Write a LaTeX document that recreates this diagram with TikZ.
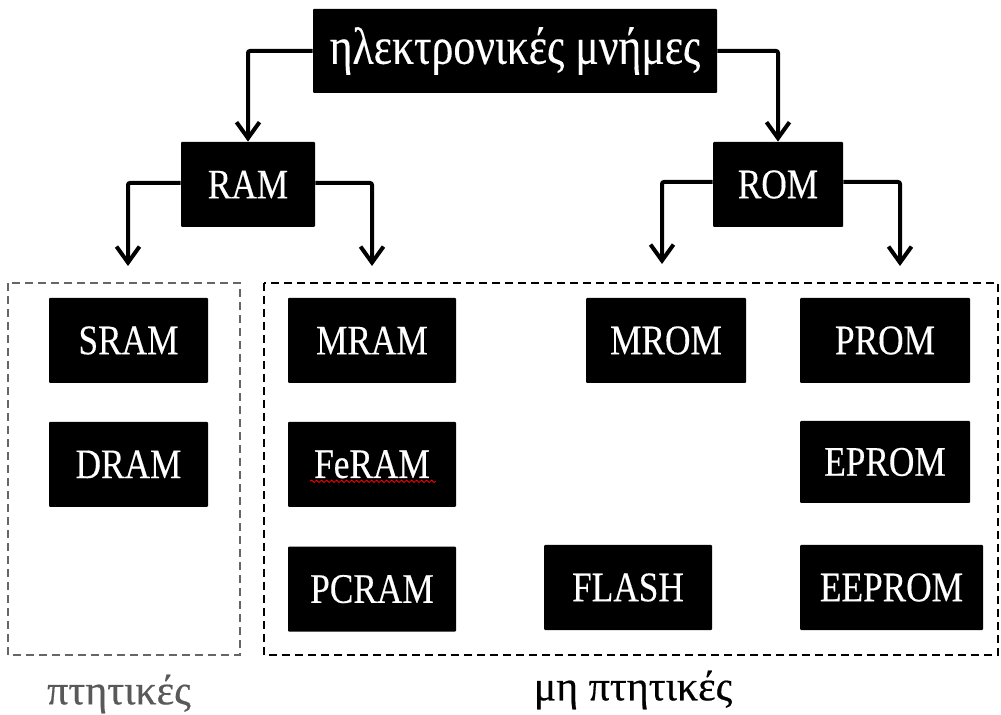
\documentclass[tikz,border=0pt]{standalone}
\usepackage{fontspec}
\setmainfont{Liberation Serif}
\newfontfamily\boxfont[FakeStretch=0.84,FakeBold=0.3]{Liberation Serif}
\newfontfamily\lblfont[FakeBold=0.4]{Liberation Serif}
\usetikzlibrary{arrows.meta,positioning,decorations.pathmorphing}

\begin{document}
\begin{tikzpicture}[x=0.5pt,y=-0.5pt,>={Straight Barb[length=8pt,width=11.5pt]},
    mem/.style={rectangle, fill=black, text=white, rounded corners=0.5pt, minimum height=42.5pt, inner sep=0pt, font=\boxfont\fontsize{21}{24}\selectfont},
    arr/.style={->, line width=2pt, rounded corners=1pt},
    grp/.style={dashed, line width=1.2pt, dash pattern=on 4pt off 2.5pt},
    lbl/.style={font=\lblfont\fontsize{21}{24}\selectfont},]
    \useasboundingbox (0,0) rectangle (1001,715);
    % top and the two families
    \node [mem, minimum width=202pt, minimum height=42pt, font=\boxfont\fontsize{26}{30}\selectfont] (top) at (515,51) {ηλεκτρονικές μνήμες};
    \node [mem, minimum width=67pt] (ram) at (248,184.5) {RAM};
    \node [mem, minimum width=65pt] (rom) at (778,184.5) {ROM};
    % volatile
    \node [mem, minimum width=79.5pt] (sram) at (128.5,340.5) {SRAM};
    \node [mem, minimum width=79.5pt, below=19pt of sram] (dram) {DRAM};
    % non volatile
    \node [mem, minimum width=84pt] (mram) at (372,340.5) {MRAM};
    \node [mem, minimum width=84pt, below=19pt of mram] (feram) {FeRAM};
    \node [mem, minimum width=84pt, below=19.5pt of feram] (pcram) {PCRAM};
    \node [mem, minimum width=80pt] (mrom) at (666,340.5) {MROM};
    \node [mem, minimum width=84pt] (flash) at (628,587.5) {FLASH};
    \node [mem, minimum width=85pt] (prom) at (885,340.5) {PROM};
    \node [mem, minimum width=85pt, minimum height=41pt] (eprom) at (885,462) {EPROM};
    \node [mem, minimum width=91.5pt] (eeprom) at (891.5,587.5) {EEPROM};
    % arrow ends
    \coordinate (ramL) at (128,266);
    \coordinate (ramR) at (372,266);
    \coordinate (romL) at (662,264);
    \coordinate (romR) at (900,266);
    \draw[arr] (top.west) -| (ram.north);
    \draw[arr] (top.east) -| (rom.north);
    \draw[arr] ([yshift=0.75pt]ram.west) -| (ramL);
    \draw[arr] ([yshift=0.75pt]ram.east) -| (ramR);
    \draw[arr] ([yshift=1.25pt]rom.west) -| (romL);
    \draw[arr] ([yshift=1.25pt]rom.east) -| (romR);
    % groups
    \draw[grp, draw=black!60] (8,283) rectangle (240,655);
    \draw[grp, line width=1.4pt] (264,283) rectangle (998,655);
    \node [lbl, text=black!65] (vol) at (119,694) {πτητικές};
    \node [lbl] (nonvol) at (633,690) {μη πτητικές};
    % spell check mark
    \draw[red, line width=0.4pt, decorate, decoration={snake, amplitude=0.6pt, segment length=2.5pt}] ([xshift=-31pt,yshift=-8.5pt]feram.center) -- ([xshift=32pt,yshift=-8.5pt]feram.center);
\end{tikzpicture}
\end{document}
